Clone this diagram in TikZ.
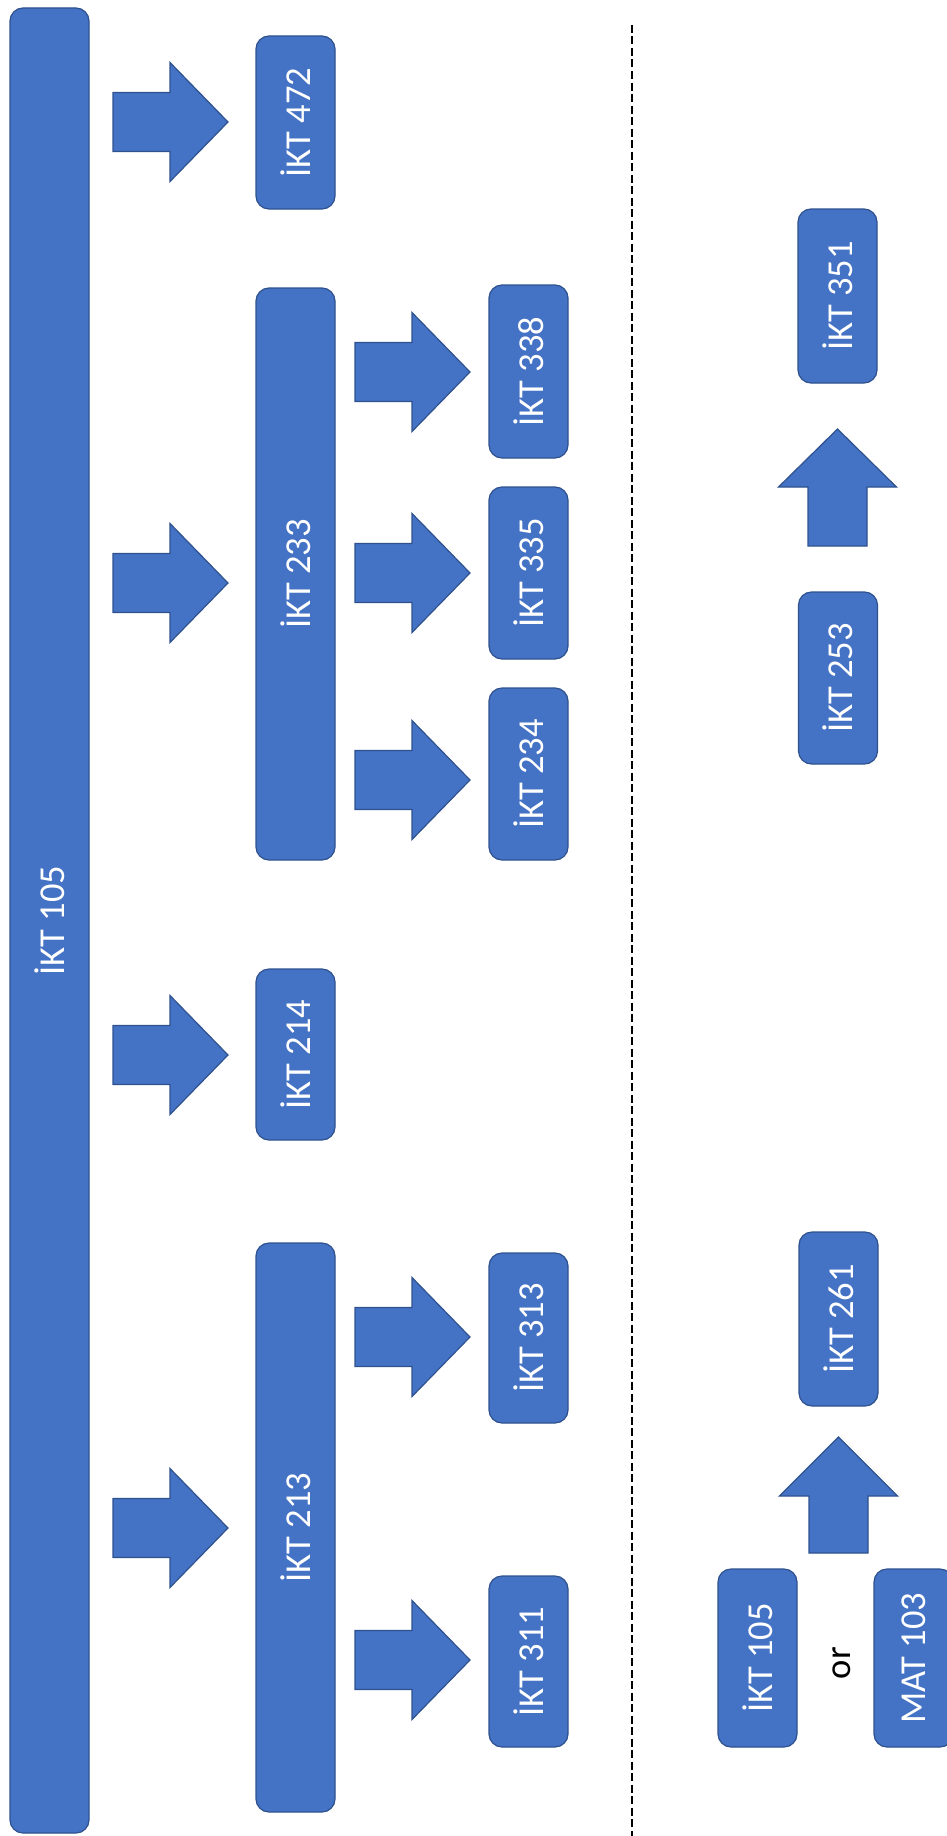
\documentclass[tikz,border=0pt]{standalone}
\usepackage{fontspec}
\setmainfont{Carlito}
\definecolor{boxfill}{HTML}{4472C4}
\definecolor{boxline}{HTML}{2F528F}
\newcommand\vtext[1]{\rotatebox{90}{#1}}
\tikzset{
  course/.style={draw=boxline, fill=boxfill, line width=1.2pt, rounded corners=13pt,
    inner sep=0pt, text=white, font=\fontsize{36.5}{40}\selectfont,
    minimum width=79pt, minimum height=173pt},
  blockarrow/.style={draw=boxline, fill=boxfill, line width=1.2pt, line join=miter},
  divider/.style={draw=black, line width=2pt, dash pattern=on 8pt off 3.5pt},
  ortext/.style={text=black, inner sep=0pt, font=\fontsize{36.5}{40}\selectfont}
}
\newcommand\rarrow[2]{\draw[blockarrow] ({#1},{#2-29.5}) -- ++(57,0) -- ++(0,-30) -- ({#1+115},{#2}) -- ({#1+57},{#2+59.5}) -- ++(0,-30) -- ({#1},{#2+29.5}) -- cycle;}
\newcommand\uarrow[4]{\draw[blockarrow] ({#1},{#2}) -- ({#1+59},{#3}) -- ({#1+29.5},{#3}) -- ({#1+29.5},{#4}) -- ({#1-29.5},{#4}) -- ({#1-29.5},{#3}) -- ({#1-59},{#3}) -- cycle;}
\begin{document}
\begin{tikzpicture}[x=1pt,y=-1pt]
\clip (0,0) rectangle (947,1836);
\fill[white] (0,0) rectangle (947,1836);
% big bar
\node[course, minimum height=1825pt] (big105) at (49.5,920.5) {\vtext{İKT 105}};
% level 1
\node[course] (k472) at (295.5,122.5) {\vtext{İKT 472}};
\node[course, minimum height=572pt] (k233) at (295.5,574) {\vtext{İKT 233}};
\node[course, minimum height=171pt] (k214) at (295.5,1054.5) {\vtext{İKT 214}};
\node[course, minimum height=569pt] (k213) at (295.5,1527.5) {\vtext{İKT 213}};
% level 2
\node[course] (k338) at (528.5,371.5) {\vtext{İKT 338}};
\node[course, minimum height=172pt] (k335) at (528.5,573) {\vtext{İKT 335}};
\node[course, minimum height=172pt] (k234) at (528.5,774) {\vtext{İKT 234}};
\node[course, minimum height=170pt] (k313) at (528.5,1338) {\vtext{İKT 313}};
\node[course, minimum height=171pt] (k311) at (528.5,1661.5) {\vtext{İKT 311}};
% right side
\node[course, minimum height=174pt] (k351) at (837.5,296) {\vtext{İKT 351}};
\node[course, minimum height=172pt] (k253) at (838,678) {\vtext{İKT 253}};
\node[course, minimum height=174pt] (k261) at (838.5,1319) {\vtext{İKT 261}};
\node[course, minimum height=178pt] (k105b) at (757.5,1658) {\vtext{İKT 105}};
\node[course, minimum height=178pt] (mat103) at (913.5,1658) {\vtext{MAT 103}};
\node[ortext] (or) at (842,1663) {\vtext{or}};
% block arrows level 1
\rarrow{113}{122}
\rarrow{113}{583}
\rarrow{113}{1055}
\rarrow{113}{1528}
% block arrows level 2
\rarrow{355}{372}
\rarrow{355}{573}
\rarrow{355}{780}
\rarrow{355}{1337}
\rarrow{355}{1660}
% up arrows
\uarrow{837.5}{429}{487}{546}
\uarrow{838.5}{1437}{1496}{1553}
% divider
\coordinate (dtop) at (632,25);
\coordinate (dbot) at (632,1836);
\draw[divider] (dtop) -- (dbot);
\end{tikzpicture}
\end{document}
